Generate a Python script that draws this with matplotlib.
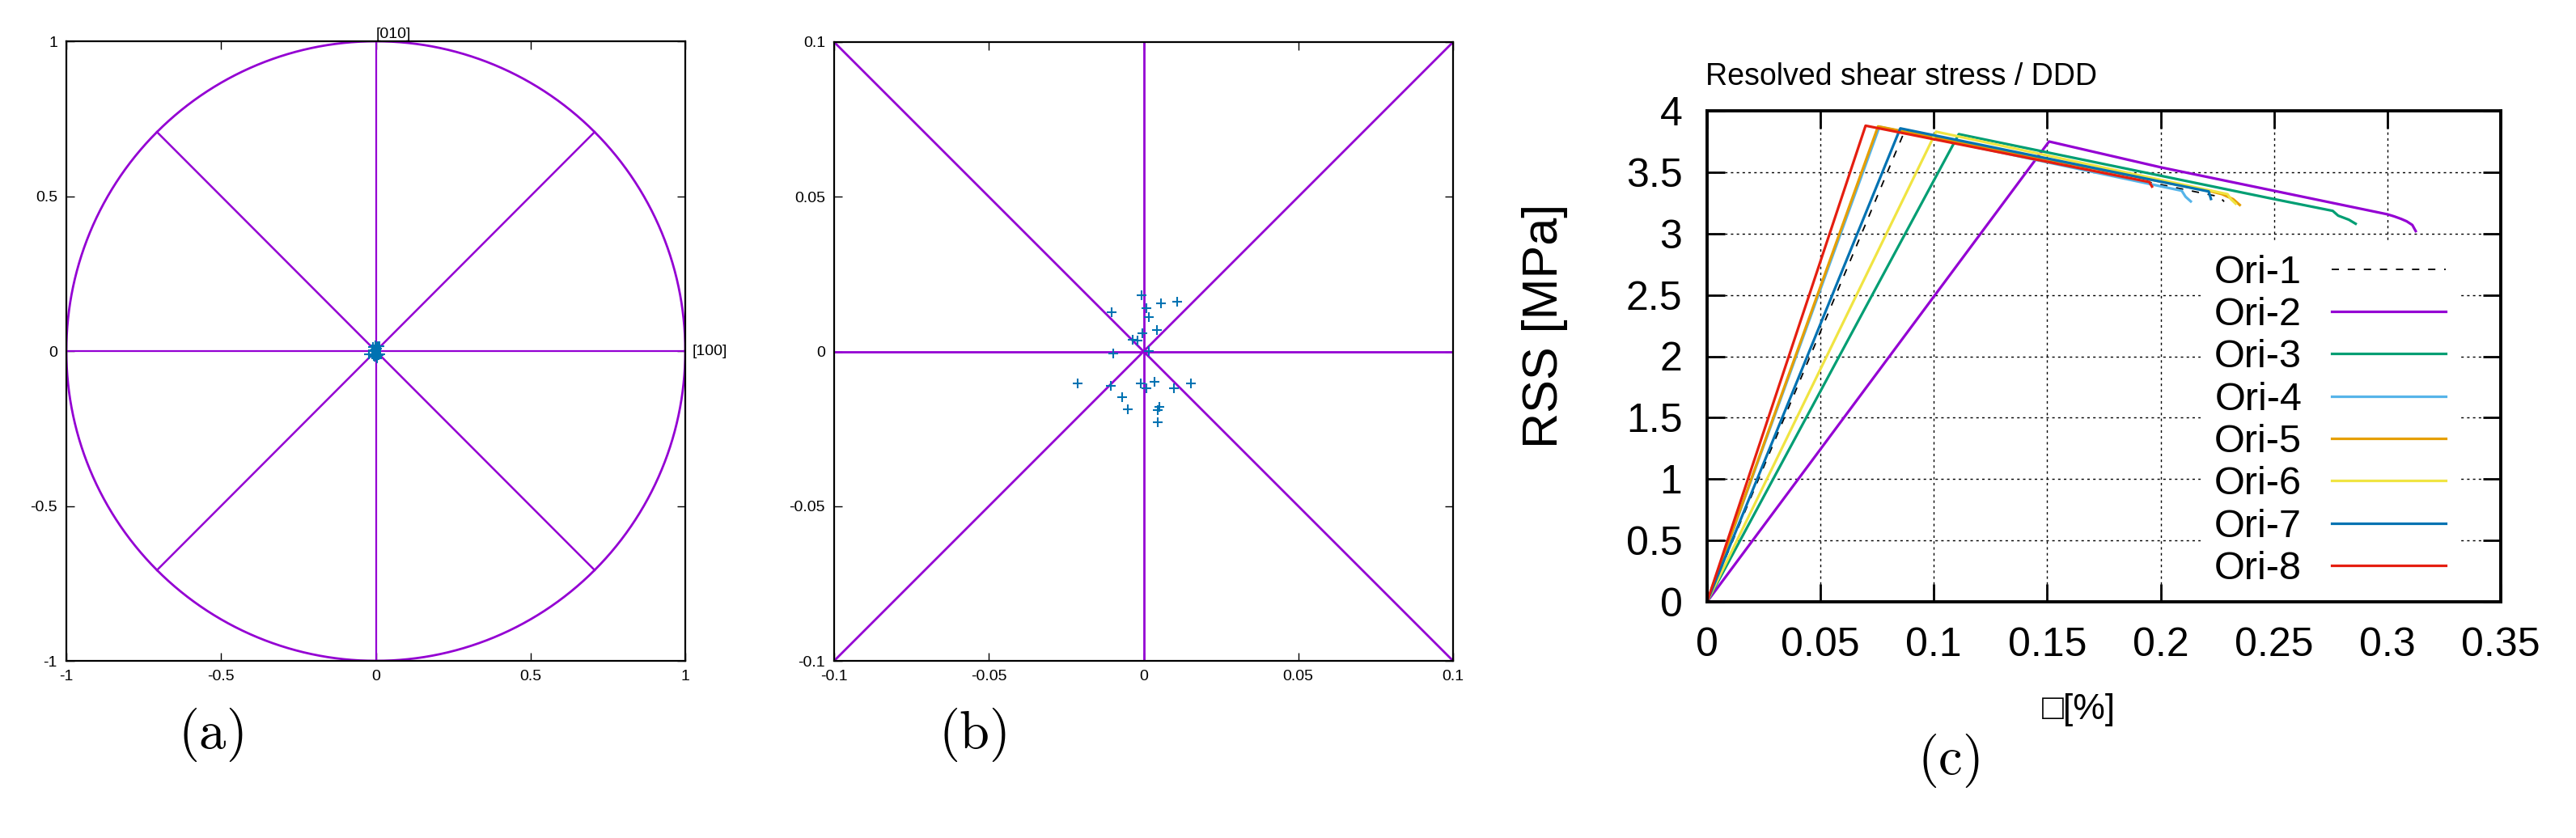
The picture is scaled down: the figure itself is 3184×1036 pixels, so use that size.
import numpy as np
import matplotlib
matplotlib.use("Agg")
import matplotlib.pyplot as plt

plt.rcParams['font.family'] = ['Liberation Sans', 'DejaVu Sans']
plt.rcParams['mathtext.fontset'] = 'cm'

# ---------------- data ----------------
# pole-figure scatter points (panel a/b)
pole_x = [-0.0006, 0.0055, 0.0109, -0.0102, 0.0009, 0.0016, 0.0044, -0.0003,
          -0.0035, -0.0019, -0.0097, 0.0016, -0.0213, -0.0106, -0.0010, 0.0035,
          0.0009, 0.0097, 0.0152, -0.0070, -0.0052, 0.0050, 0.0047, 0.0046]
pole_y = [0.0181, 0.0155, 0.0160, 0.0126, 0.0141, 0.0111, 0.0070, 0.0058,
          0.0039, 0.0035, -0.0007, 0.0002, -0.0102, -0.0111, -0.0102, -0.0097,
          -0.0118, -0.0118, -0.0104, -0.0149, -0.0188, -0.0178, -0.0189, -0.0230]

diag_a = [-0.7071, 0.7071]
axis_a = [-1, 1]
ticks_a = [-1, -0.5, 0, 0.5, 1]
ticklabels_a = ['-1', '-0.5', '0', '0.5', '1']
axis_b = [-0.1, 0.1]
ticks_b = [-0.1, -0.05, 0, 0.05, 0.1]
ticklabels_b = ['-0.1', '-0.05', '0', '0.05', '0.1']

# stress-strain curves (panel c)
series_names = ['Ori-1', 'Ori-2', 'Ori-3', 'Ori-4', 'Ori-5', 'Ori-6', 'Ori-7', 'Ori-8']
strain = [
    [0, 0.0870, 0.2260, 0.2280],
    [0, 0.1508, 0.2000, 0.3000, 0.3030, 0.3060, 0.3085, 0.3110, 0.3125],
    [0, 0.1110, 0.2497, 0.2759, 0.2783, 0.2830, 0.2860],
    [0, 0.0760, 0.2093, 0.2110, 0.2133],
    [0, 0.0754, 0.2224, 0.2271, 0.2320, 0.2349],
    [0, 0.1010, 0.2295, 0.2310, 0.2331],
    [0, 0.0852, 0.2212, 0.2222],
    [0, 0.0699, 0.1950, 0.1962],
]
rss = [
    [0, 3.83, 3.30, 3.26],
    [0, 3.75, 3.54, 3.157, 3.14, 3.12, 3.10, 3.07, 3.02],
    [0, 3.81, 3.282, 3.185, 3.146, 3.113, 3.08],
    [0, 3.87, 3.349, 3.30, 3.262],
    [0, 3.873, 3.343, 3.321, 3.28, 3.233],
    [0, 3.83, 3.321, 3.28, 3.244],
    [0, 3.857, 3.343, 3.282],
    [0, 3.879, 3.420, 3.383],
]
xticks_c = [0, 0.05, 0.1, 0.15, 0.2, 0.25, 0.3, 0.35]
xticklabels_c = ['0', '0.05', '0.1', '0.15', '0.2', '0.25', '0.3', '0.35']
yticks_c = [0, 0.5, 1, 1.5, 2, 2.5, 3, 3.5, 4]
yticklabels_c = ['0', '0.5', '1', '1.5', '2', '2.5', '3', '3.5', '4']

# ---------------- styles ----------------
PURPLE = '#9400D3'
MARK = '#0072B2'
colors = ['black', '#9400D3', '#009E73', '#56B4E9', '#E69F00', '#F0E442', '#0072B2', '#E51E10']
styles = [(0, (5, 6))] + ['-'] * 7
widths = [1.3] + [2.3] * 7

W, H = 3184, 1036
fig = plt.figure(figsize=(W / 100, H / 100), dpi=100)

def frac(l, t, r, b):
    return [l / W, 1 - b / H, (r - l) / W, (b - t) / H]

def style_small(ax, ticks, labels):
    ax.set_xticks(ticks)
    ax.set_xticklabels(labels)
    ax.set_yticks(ticks)
    ax.set_yticklabels(labels)
    ax.tick_params(direction='in', length=7.5, width=1, top=True, right=True,
                   labelsize=14, pad=8)
    for s in ax.spines.values():
        s.set_linewidth(1.6)

# ---- panel (a)
axa = fig.add_axes(frac(82, 51, 847, 817))
theta = np.linspace(0, 2 * np.pi, 721)
axa.plot(np.cos(theta), np.sin(theta), color=PURPLE, lw=2)
axa.plot(axis_a, [0, 0], color=PURPLE, lw=1.6)
axa.plot([0, 0], axis_a, color=PURPLE, lw=1.6)
axa.plot(diag_a, diag_a, color=PURPLE, lw=1.8)
axa.plot(diag_a, diag_a[::-1], color=PURPLE, lw=1.8)
axa.plot(pole_x, pole_y, '+', color=MARK, ms=8, mew=1.5)
axa.set_xlim(-1, 1)
axa.set_ylim(-1, 1)
style_small(axa, ticks_a, ticklabels_a)
axa.text(0, 1, '[010]', ha='left', va='bottom', fontsize=14)
axa.annotate('[100]', (1, 0), xytext=(6, 0), textcoords='offset points',
             ha='left', va='center', fontsize=14, annotation_clip=False)

# ---- panel (b)
axb = fig.add_axes(frac(1031, 52, 1796, 817))
axb.plot(axis_b, [0, 0], color=PURPLE, lw=2)
axb.plot([0, 0], axis_b, color=PURPLE, lw=2)
axb.plot(axis_b, axis_b, color=PURPLE, lw=2)
axb.plot(axis_b, axis_b[::-1], color=PURPLE, lw=2)
axb.plot(pole_x, pole_y, '+', color=MARK, ms=8, mew=1.5)
axb.set_xlim(-0.1, 0.1)
axb.set_ylim(-0.1, 0.1)
style_small(axb, ticks_b, ticklabels_b)

# ---- panel (c)
axc = fig.add_axes(frac(2110, 137, 3091, 744))
for i, name in enumerate(series_names):
    axc.plot(strain[i], rss[i], color=colors[i], ls=styles[i], lw=widths[i],
             label=name, zorder=3 + i)
axc.set_xlim(0, 0.35)
axc.set_ylim(0, 4)
axc.set_xticks(xticks_c)
axc.set_xticklabels(xticklabels_c)
axc.set_yticks(yticks_c)
axc.set_yticklabels(yticklabels_c)
axc.tick_params(direction='in', length=16, width=2, top=True, right=True,
                labelsize=36, pad=22)
axc.grid(True, color='black', lw=1, ls=(0, (2.2, 3)))
axc.set_axisbelow(True)
for s in axc.spines.values():
    s.set_linewidth(2.8)
    s.set_zorder(20)
leg = axc.legend(loc='upper left', bbox_to_anchor=(0.622, 0.735), fontsize=35,
                 markerfirst=False, frameon=True, fancybox=False,
                 edgecolor='none', facecolor='white', framealpha=1,
                 handlelength=2.9, handletextpad=0.75, labelspacing=0.15,
                 borderpad=0.35, borderaxespad=0)
leg.set_zorder(2.5)

fig.text(2350 / W, 1 - 95 / H, 'Resolved shear stress / DDD', ha='center',
         va='center', fontsize=27)
fig.text(1909 / W, 1 - 403 / H, 'RSS [MPa]', ha='center', va='center',
         rotation=90, fontsize=44)
fig.text(2569 / W, 1 - 877 / H, '\u25A1[%]', ha='center', va='center', fontsize=32)

fig.text(260 / W, 1 - 908 / H, r'$(\mathrm{a})$', ha='center', va='center', fontsize=48)
fig.text(1202 / W, 1 - 908 / H, r'$(\mathrm{b})$', ha='center', va='center', fontsize=48)
fig.text(2408 / W, 1 - 941 / H, r'$(\mathrm{c})$', ha='center', va='center', fontsize=48)

fig.savefig('out.png', dpi=100)
